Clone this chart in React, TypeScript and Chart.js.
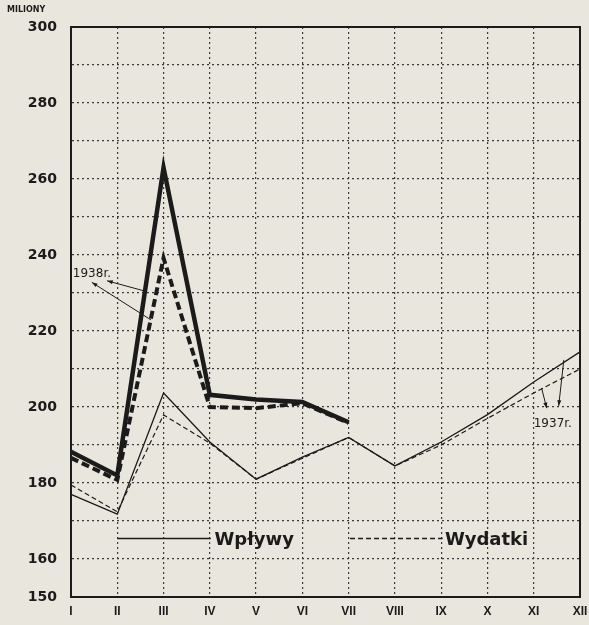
import React, { useEffect, useRef } from "react";
import { Chart, registerables } from "chart.js";

Chart.register(...registerables);

const months = ["I", "II", "III", "IV", "V", "VI", "VII", "VIII", "IX", "X", "XI", "XII"];
const yTickLabels = [150, 160, 180, 200, 220, 240, 260, 280, 300];

const wplywy1938 = [188.2, 182, 263, 203.2, 202, 201.3, 196, null, null, null, null, null];
const wydatki1938 = [186.6, 180.8, 239.2, 200, 199.7, 201, 195.8, null, null, null, null, null];
const wplywy1937 = [177, 171.8, 203.7, 190.8, 181, 186.8, 192, 184.5, 190.8, 198, 206.6, 214.5];
const wydatki1937 = [179.5, 172.4, 197.9, 190.5, 181, 186.5, 192, 184.5, 190, 197, 203.7, 210];

const INK = "#1b1b1b";
const GRID = "#3a3a3a";
const BG = "#e9e6dd";

const decorPlugin = {
  id: "decor",
  afterDatasetsDraw(chart: any) {
    const { ctx, chartArea, scales } = chart;
    const xs = scales.x;
    const ys = scales.y;
    const px = (i: number) => xs.left + (xs.right - xs.left) * (i / 11);
    const py = (v: number) => ys.getPixelForValue(v);
    ctx.save();
    ctx.strokeStyle = INK;
    ctx.lineWidth = 2;
    ctx.setLineDash([]);
    ctx.strokeRect(chartArea.left, chartArea.top, chartArea.right - chartArea.left, chartArea.bottom - chartArea.top);

    // legend
    ctx.lineWidth = 1.3;
    ctx.beginPath();
    ctx.moveTo(px(1), py(165.4));
    ctx.lineTo(px(3.02), py(165.4));
    ctx.stroke();
    ctx.setLineDash([5, 3]);
    ctx.beginPath();
    ctx.moveTo(px(6.03), py(165.4));
    ctx.lineTo(px(8.03), py(165.4));
    ctx.stroke();
    ctx.setLineDash([]);
    ctx.fillStyle = INK;
    ctx.font = "bold 18px 'DejaVu Sans'";
    ctx.textBaseline = "alphabetic";
    ctx.textAlign = "left";
    ctx.fillText("Wpływy", px(3.1), py(163.6));
    ctx.fillText("Wydatki", px(8.08), py(163.6));

    // annotations
    ctx.font = "12px 'DejaVu Sans'";
    ctx.fillText("1938r.", px(0.04), py(234.3));
    ctx.fillText("1937r.", px(10.0), py(194.7));
    ctx.lineWidth = 1;
    const arrows: [number, number, number, number][] = [
      [0.78, 233.2, 1.6, 230.5],
      [0.45, 232.8, 1.73, 222.9],
      [10.28, 199.7, 10.17, 205],
      [10.54, 200.3, 10.65, 212.4],
    ];
    for (const [x1, y1, x2, y2] of arrows) {
      const a = px(x1), b = py(y1), c = px(x2), d = py(y2);
      ctx.beginPath();
      ctx.moveTo(a, b);
      ctx.lineTo(c, d);
      ctx.stroke();
      const ang = Math.atan2(b - d, a - c);
      ctx.beginPath();
      ctx.moveTo(a, b);
      ctx.lineTo(a - 6 * Math.cos(ang - 0.35), b - 6 * Math.sin(ang - 0.35));
      ctx.lineTo(a - 6 * Math.cos(ang + 0.35), b - 6 * Math.sin(ang + 0.35));
      ctx.closePath();
      ctx.fill();
    }

    ctx.font = "bold 8px 'DejaVu Sans'";
    ctx.textBaseline = "middle";
    ctx.fillText("MILIONY", 7, 10);
    ctx.restore();
  },
};

export default function App() {
  const ref = useRef<HTMLCanvasElement | null>(null);
  useEffect(() => {
    if (!ref.current) return;
    const chart = new Chart(ref.current, {
      type: "line",
      data: {
        labels: months,
        datasets: [
          { label: "Wpływy 1937", data: wplywy1937, borderColor: INK, borderWidth: 1.3, pointRadius: 0, tension: 0 },
          { label: "Wydatki 1937", data: wydatki1937, borderColor: INK, borderWidth: 1.2, borderDash: [5, 3], pointRadius: 0, tension: 0 },
          { label: "Wpływy 1938", data: wplywy1938, borderColor: INK, borderWidth: 4.5, pointRadius: 0, tension: 0, spanGaps: false },
          { label: "Wydatki 1938", data: wydatki1938, borderColor: INK, borderWidth: 4, borderDash: [8, 4], pointRadius: 0, tension: 0, spanGaps: false },
        ],
      },
      options: {
        animation: false,
        responsive: false,
        devicePixelRatio: 1,
        layout: { padding: { top: 27, right: 9, left: 0, bottom: 0 } },
        plugins: { legend: { display: false }, tooltip: { enabled: false }, title: { display: false } },
        scales: {
          x: {
            type: "category",
            offset: false,
            grid: { color: GRID, lineWidth: 1.2, drawTicks: false },
            border: { display: true, color: INK, width: 2, dash: [2, 3] },
            ticks: {
              color: INK,
              padding: 7,
              autoSkip: false,
              maxRotation: 0,
              font: { family: "'Liberation Sans'", weight: "bold", size: 12 },
            },
            afterFit: (s: any) => { s.height = 28; s.paddingRight = 0; s.paddingLeft = 0; },
          } as any,
          y: {
            min: 150,
            max: 300,
            ticks: {
              stepSize: 10,
              color: INK,
              padding: 14,
              font: { family: "'DejaVu Sans'", weight: "bold", size: 14 },
              callback: (v: any) => (yTickLabels.includes(Number(v)) ? String(v) : ""),
            },
            grid: { color: GRID, lineWidth: 1.2, drawTicks: false },
            border: { display: true, color: INK, width: 2, dash: [2, 3] },
            afterFit: (s: any) => { s.width = 71; s.paddingTop = 0; s.paddingBottom = 0; },
          } as any,
        },
      },
      plugins: [decorPlugin],
    });
    return () => chart.destroy();
  }, []);
  return (
    <div style={{ position: "fixed", left: 0, top: 0, width: 589, height: 625, background: BG }}>
      <canvas ref={ref} width={589} height={625} style={{ width: 589, height: 625, display: "block" }} />
    </div>
  );
}
